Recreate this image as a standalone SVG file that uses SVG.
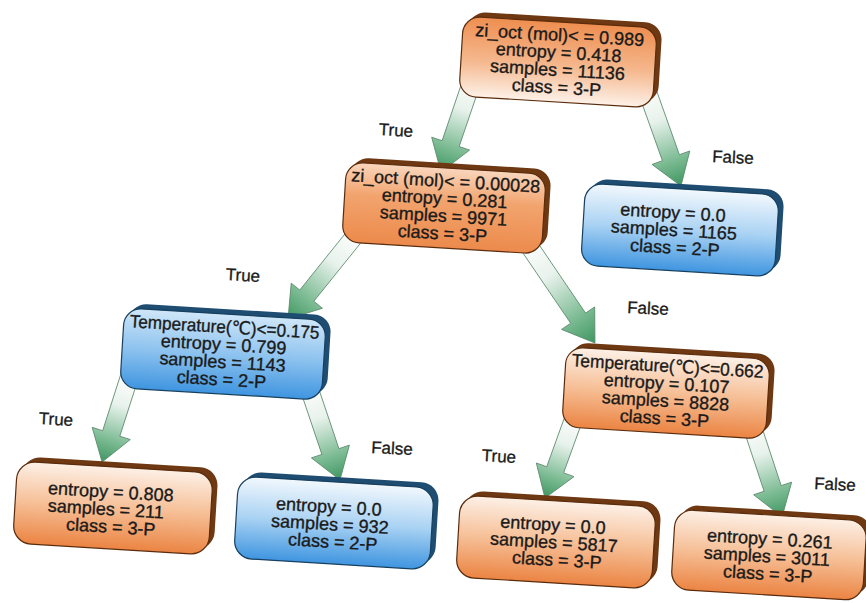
<svg xmlns="http://www.w3.org/2000/svg" width="866" height="603" viewBox="0 0 866 603">
<defs>
<linearGradient id="gOrDown" x1="0" y1="0" x2="0" y2="1"><stop offset="0" stop-color="#ee8e50"/><stop offset="0.55" stop-color="#f5b88e"/><stop offset="1" stop-color="#fdf1e8"/></linearGradient>
<linearGradient id="gOrUp" x1="0" y1="0" x2="0" y2="1"><stop offset="0" stop-color="#fdf0e6"/><stop offset="0.5" stop-color="#f6bf96"/><stop offset="1" stop-color="#eb8443"/></linearGradient>
<linearGradient id="gOrMid" x1="0" y1="0" x2="0" y2="1"><stop offset="0" stop-color="#f9d6bd"/><stop offset="0.4" stop-color="#f2a46e"/><stop offset="1" stop-color="#ec8a4c"/></linearGradient>
<linearGradient id="gBl" x1="0" y1="0" x2="0" y2="1"><stop offset="0" stop-color="#f2f8fd"/><stop offset="0.5" stop-color="#a9d2f3"/><stop offset="1" stop-color="#3f95e0"/></linearGradient>
<linearGradient id="gBlMid" x1="0" y1="0" x2="0" y2="1"><stop offset="0" stop-color="#cfe6f8"/><stop offset="0.5" stop-color="#8ec3ef"/><stop offset="1" stop-color="#3f95e0"/></linearGradient>
<linearGradient id="gAr" x1="0" y1="0" x2="0" y2="1"><stop offset="0" stop-color="#ffffff"/><stop offset="0.35" stop-color="#e8f2ec"/><stop offset="0.75" stop-color="#7cbb93"/><stop offset="1" stop-color="#3e9661"/></linearGradient>
</defs>
<style>
.bo{fill:#6e3812}
.bb{fill:#1f4d72}
.fo{stroke:#5a2c0c;stroke-width:1.2}
.fb{stroke:#17405f;stroke-width:1.2}
.t{font-family:"Liberation Sans",Arial,"DejaVu Sans",sans-serif;font-size:18px;fill:#1a1a1a;stroke:#1a1a1a;stroke-width:0.35;text-anchor:middle}
.lbl{font-family:"Liberation Sans",Arial,sans-serif;font-size:17px;fill:#1a1a1a;stroke:#1a1a1a;stroke-width:0.3;text-anchor:middle}
.ar{fill:url(#gAr);stroke:#5b8a6c;stroke-width:0.8}
</style>

<g id="connectors">
<g transform="translate(474,75) rotate(18.8)"><polygon class="ar" points="-9,0 9,0 9,72.5 20,72.5 0,102.5 -20,72.5 -9,72.5"/></g>
<g transform="translate(645,85) rotate(-19.6)"><polygon class="ar" points="-9,0 9,0 9,77.2 20,77.2 0,107.2 -20,77.2 -9,77.2"/></g>
<g transform="translate(358,232) rotate(38.8)"><polygon class="ar" points="-9,0 9,0 9,81.7 20,81.7 0,111.7 -20,81.7 -9,81.7"/></g>
<g transform="translate(525,240) rotate(-34.2)"><polygon class="ar" points="-9,0 9,0 9,94.5 20,94.5 0,124.5 -20,94.5 -9,94.5"/></g>
<g transform="translate(130,375) rotate(17.8)"><polygon class="ar" points="-9,0 9,0 9,61.4 20,61.4 0,91.4 -20,61.4 -9,61.4"/></g>
<g transform="translate(308,385) rotate(-18.6)"><polygon class="ar" points="-9,0 9,0 9,70.2 20,70.2 0,100.2 -20,70.2 -9,70.2"/></g>
<g transform="translate(575,415) rotate(19.9)"><polygon class="ar" points="-9,0 9,0 9,58.3 20,58.3 0,88.3 -20,58.3 -9,58.3"/></g>
<g transform="translate(750,420) rotate(-18.3)"><polygon class="ar" points="-9,0 9,0 9,72.1 20,72.1 0,102.1 -20,72.1 -9,72.1"/></g>
<text class="lbl" x="396" y="136" transform="rotate(3 396 130)">True</text>
<text class="lbl" x="733" y="163" transform="rotate(3 733 157)">False</text>
<text class="lbl" x="243" y="281" transform="rotate(3 243 275)">True</text>
<text class="lbl" x="648" y="314" transform="rotate(3 648 308)">False</text>
<text class="lbl" x="56" y="425" transform="rotate(3 56 419)">True</text>
<text class="lbl" x="392" y="454" transform="rotate(3 392 448)">False</text>
<text class="lbl" x="499" y="462" transform="rotate(3 499 456)">True</text>
<text class="lbl" x="835" y="490" transform="rotate(3 835 484)">False</text>
</g>

<g id="n0" transform="rotate(3.5 558 62)">
<rect class="bo" x="466" y="17" width="194" height="80" rx="17"/>
<rect class="fo" x="461" y="22" width="194" height="80" rx="17" fill="url(#gOrDown)"/>
<text class="t" x="558" y="41">zi_oct (mol)&lt; = 0.989</text>
<text class="t" x="558" y="58.5">entropy = 0.418</text>
<text class="t" x="558" y="76">samples = 11136</text>
<text class="t" x="558" y="93.5">class = 3-P</text>
</g>

<g id="n1" transform="rotate(3.5 444 208)">
<rect class="bo" x="349" y="163" width="200" height="80" rx="17"/>
<rect class="fo" x="344" y="168" width="200" height="80" rx="17" fill="url(#gOrMid)"/>
<text class="t" x="444" y="187">zi_oct (mol)&lt; = 0.00028</text>
<text class="t" x="444" y="204.5">entropy = 0.281</text>
<text class="t" x="444" y="222">samples = 9971</text>
<text class="t" x="444" y="239.5">class = 3-P</text>
</g>

<g id="n2" transform="rotate(3.5 680 229)">
<rect class="bb" x="588" y="184" width="194" height="82" rx="17"/>
<rect class="fb" x="583" y="189" width="194" height="82" rx="17" fill="url(#gBl)"/>
<text class="t" x="672" y="219">entropy = 0.0</text>
<text class="t" x="674" y="236.5">samples = 1165</text>
<text class="t" x="676" y="254">class = 2-P</text>
</g>

<g id="n3" transform="rotate(3.5 223 354)">
<rect class="bb" x="127" y="309" width="202" height="80" rx="17"/>
<rect class="fb" x="122" y="314" width="202" height="80" rx="17" fill="url(#gBlMid)"/>
<text class="t" x="223" y="333" textLength="190" lengthAdjust="spacingAndGlyphs">Temperature(℃)&lt;=0.175</text>
<text class="t" x="223" y="350.5">entropy = 0.799</text>
<text class="t" x="223" y="368">samples = 1143</text>
<text class="t" x="223" y="385.5">class = 2-P</text>
</g>

<g id="n4" transform="rotate(3.5 666 393)">
<rect class="bo" x="569" y="348" width="204" height="80" rx="17"/>
<rect class="fo" x="564" y="353" width="204" height="80" rx="17" fill="url(#gOrUp)"/>
<text class="t" x="666" y="372" textLength="192" lengthAdjust="spacingAndGlyphs">Temperature(℃)&lt;=0.662</text>
<text class="t" x="666" y="389.5">entropy = 0.107</text>
<text class="t" x="666" y="407">samples = 8828</text>
<text class="t" x="666" y="424.5">class = 3-P</text>
</g>

<g id="n5" transform="rotate(3.5 113 507)">
<rect class="bo" x="20" y="462" width="196" height="82" rx="18"/>
<rect class="fo" x="15" y="467" width="196" height="82" rx="18" fill="url(#gOrUp)"/>
<text class="t" x="110" y="498">entropy = 0.808</text>
<text class="t" x="106" y="515.5">samples = 211</text>
<text class="t" x="112" y="533">class = 3-P</text>
</g>

<g id="n6" transform="rotate(3.5 334 522)">
<rect class="bb" x="241" y="477" width="196" height="82" rx="18"/>
<rect class="fb" x="236" y="482" width="196" height="82" rx="18" fill="url(#gBl)"/>
<text class="t" x="328" y="513">entropy = 0.0</text>
<text class="t" x="330" y="530.5">samples = 932</text>
<text class="t" x="334" y="548">class = 2-P</text>
</g>

<g id="n7" transform="rotate(3.5 556 541)">
<rect class="bo" x="463" y="496" width="196" height="82" rx="18"/>
<rect class="fo" x="458" y="501" width="196" height="82" rx="18" fill="url(#gOrUp)"/>
<text class="t" x="552" y="531">entropy = 0.0</text>
<text class="t" x="554" y="548.5">samples = 5817</text>
<text class="t" x="558" y="566">class = 3-P</text>
</g>

<g id="n8" transform="rotate(3.5 769 554)">
<rect class="bo" x="678" y="510" width="192" height="80" rx="18"/>
<rect class="fo" x="673" y="515" width="192" height="80" rx="18" fill="url(#gOrUp)"/>
<text class="t" x="769" y="545">entropy = 0.261</text>
<text class="t" x="767" y="562.5">samples = 3011</text>
<text class="t" x="769" y="580">class = 3-P</text>
</g>
</svg>
